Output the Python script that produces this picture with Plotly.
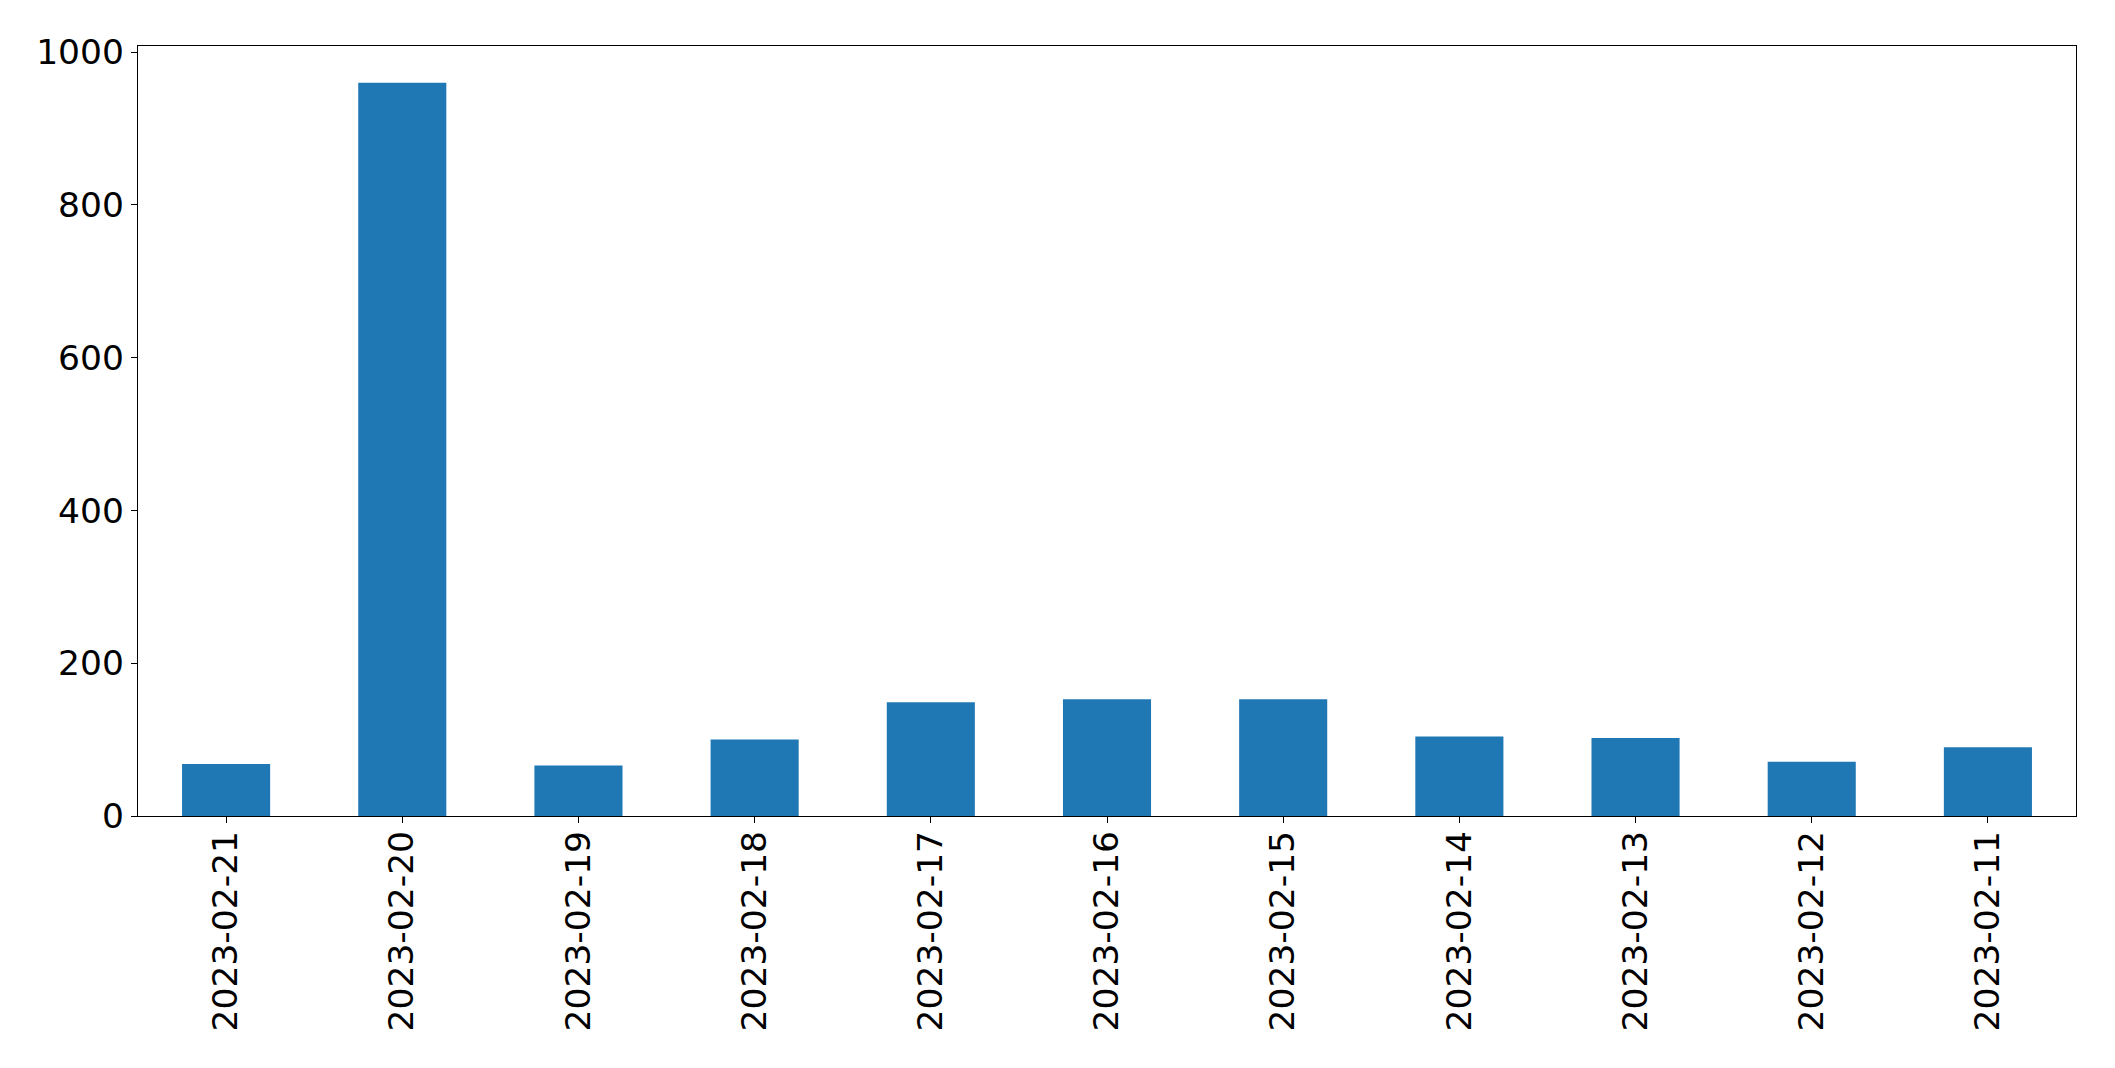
import plotly.graph_objects as go

dates = ["2023-02-21", "2023-02-20", "2023-02-19", "2023-02-18", "2023-02-17", "2023-02-16",
         "2023-02-15", "2023-02-14", "2023-02-13", "2023-02-12", "2023-02-11"]
counts = [68, 960, 66, 100, 149, 153, 153, 104, 102, 71, 90]
y_ticks = [0, 200, 400, 600, 800, 1000]

fig = go.Figure(go.Bar(x=dates, y=counts, marker=dict(color="#1f77b4", line=dict(width=0)),
                       width=0.5))

font = dict(family="DejaVu Sans", size=34.5, color="black")
# page body has an 8px margin; compensate so the plot area lands where the reference has it
fig.update_layout(
    width=2099, height=1052,
    margin=dict(l=130, r=31, t=38, b=244),
    plot_bgcolor="white", paper_bgcolor="white",
    showlegend=False,
    font=font,
)
fig.update_xaxes(type="category", range=[-0.5, 10.5], tickangle=-90,
                 showline=True, linecolor="black", linewidth=1.3, mirror=True,
                 ticks="outside", ticklen=6, tickwidth=1.3, tickcolor="black",
                 showgrid=False, tickfont=font, ticklabelstandoff=-6)
fig.update_yaxes(range=[0, 1008], tickvals=y_ticks, ticktext=[str(v) for v in y_ticks],
                 showline=True, linecolor="black", linewidth=1.3, mirror=True,
                 ticks="outside", ticklen=6, tickwidth=1.3, tickcolor="black",
                 showgrid=False, zeroline=False, tickfont=font)

fig.write_html("out.html")
